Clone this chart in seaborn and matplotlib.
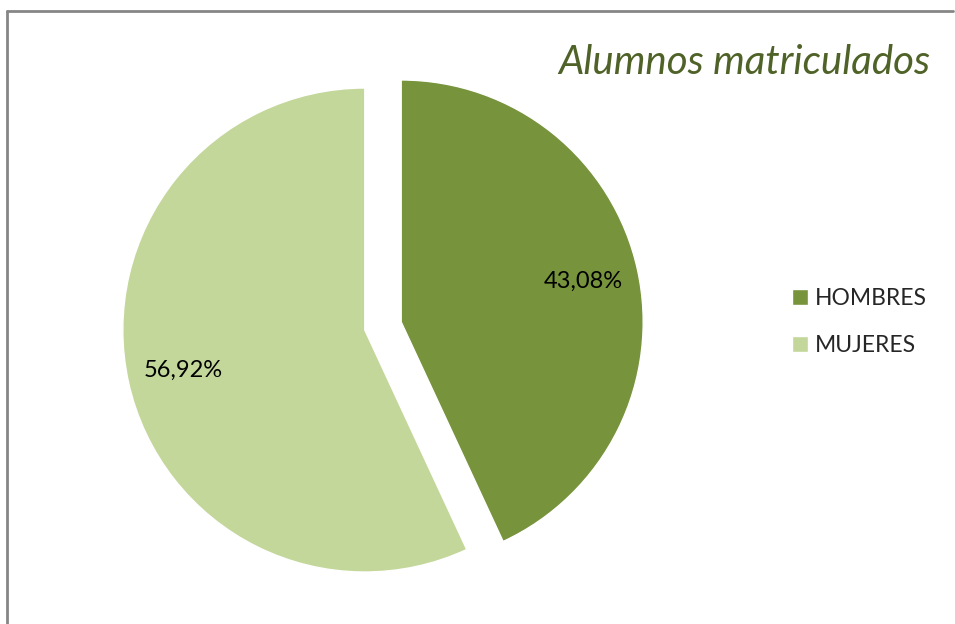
import matplotlib.pyplot as plt
import seaborn as sns
from matplotlib.lines import Line2D

# datos
categorias = ['HOMBRES', 'MUJERES']
porcentajes = [43.08, 56.92]
colores = ['#77933C', '#C4D79B']

sns.set_theme(style='white')
plt.rcParams['font.family'] = ['Lato', 'DejaVu Sans']

fig = plt.figure(figsize=(9.55, 6.24), dpi=100)
ax = fig.add_axes([80.5 / 955, (624 - 628.5) / 624, 605 / 955, 605 / 624])

wedges, textos, autotextos = ax.pie(
    porcentajes,
    labels=None,
    colors=sns.color_palette(colores),
    startangle=90,
    counterclock=False,
    explode=[0.077, 0.077],
    pctdistance=0.77,
    autopct=lambda p: f'{p:.2f}%'.replace('.', ','),
    textprops={'fontsize': 17, 'color': 'black'},
)
ax.set_xlim(-1.25, 1.25)
ax.set_ylim(-1.25, 1.25)

fig.text(930 / 955, 1 - 63 / 624, 'Alumnos matriculados', ha='right', va='center',
         fontsize=29, style='italic', color='#4F6228')

fig.legend(wedges, categorias, loc='center left', bbox_to_anchor=(792 / 955, 1 - 322 / 624),
           frameon=False, fontsize=16.5, handlelength=0.7, handleheight=0.7,
           handletextpad=0.3, labelspacing=1.15, borderpad=0, borderaxespad=0)

# marco del grafico
borde = '#868686'
fig.add_artist(Line2D([7 / 955, 953 / 955], [1 - 11 / 624, 1 - 11 / 624], color=borde, lw=2))
fig.add_artist(Line2D([7 / 955, 7 / 955], [1 - 11 / 624, -0.01], color=borde, lw=2))

fig.savefig('out.png', dpi=100)
